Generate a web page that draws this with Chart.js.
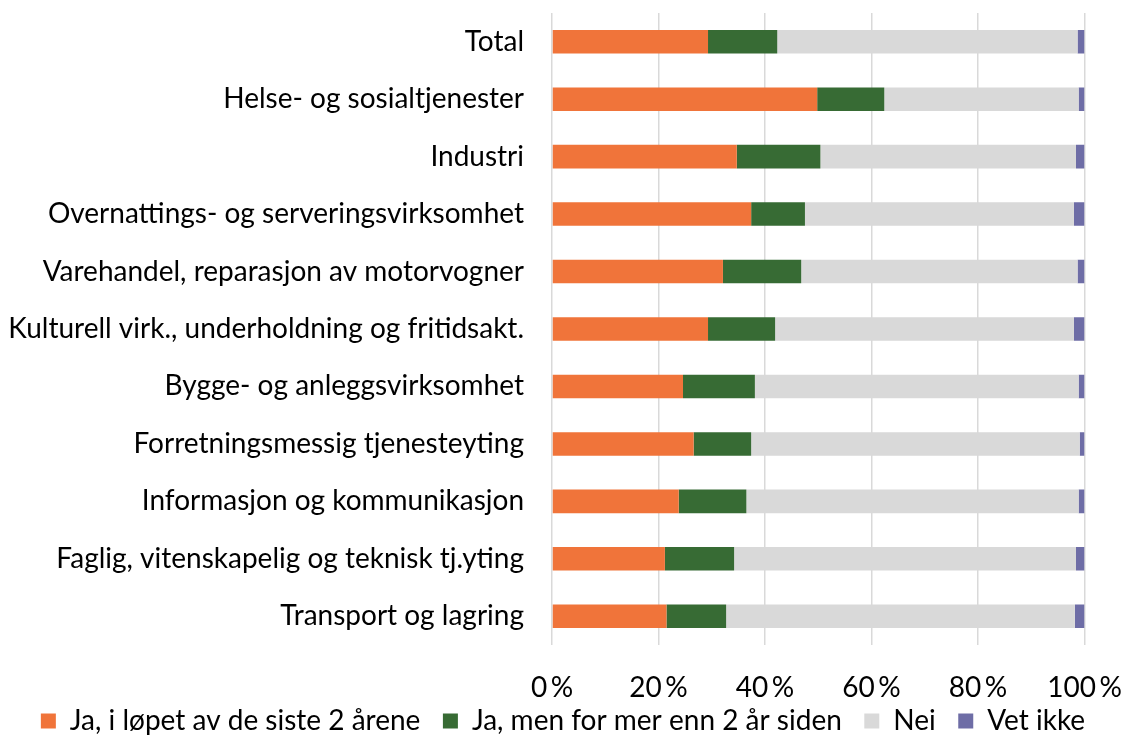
<!DOCTYPE html>
<html>
<head>
<meta charset="utf-8">
<script src="https://cdn.jsdelivr.net/npm/chart.js@4.4.1/dist/chart.umd.min.js"></script>
<style>
  html, body { margin: 0; padding: 0; background: #fff; }
  #wrap { width: 1126px; height: 735px; position: relative; }
</style>
</head>
<body>
<div id="wrap"><canvas id="chart"></canvas></div>
<script>
const categories = [
    "Total",
    "Helse- og sosialtjenester",
    "Industri",
    "Overnattings- og serveringsvirksomhet",
    "Varehandel, reparasjon av motorvogner",
    "Kulturell virk., underholdning og fritidsakt.",
    "Bygge- og anleggsvirksomhet",
    "Forretningsmessig tjenesteyting",
    "Informasjon og kommunikasjon",
    "Faglig, vitenskapelig og teknisk tj.yting",
    "Transport og lagring"
];

const jaSiste2 = [29.3, 49.8, 34.7, 37.4, 32.1, 29.3, 24.6, 26.6, 23.8, 21.2, 21.5];
const jaMer2   = [13.0, 12.6, 15.7, 10.1, 14.7, 12.6, 13.5, 10.8, 12.7, 13.0, 11.2];
const nei      = [56.4, 36.5, 48.0, 50.5, 51.9, 56.1, 60.8, 61.7, 62.4, 64.2, 65.5];
const vetIkke  = [1.3, 1.1, 1.6, 2.0, 1.3, 2.0, 1.1, 0.9, 1.1, 1.6, 1.8];

const seriesNames = ["Ja, i løpet av de siste 2 årene", "Ja, men for mer enn 2 år siden", "Nei", "Vet ikke"];
const colors = ["#F0743A", "#376B34", "#D9D9D9", "#6E6DA6"];
const xTicks = [0, 20, 40, 60, 80, 100];

const font = "Lato, 'Open Sans', sans-serif";
const fontSize = 28;

function ds(i, data) {
    return {
        label: seriesNames[i],
        data: data,
        backgroundColor: colors[i],
        borderWidth: 0,
        barPercentage: 0.82,
        categoryPercentage: 0.5
    };
}

const config = {
    type: 'bar',
    data: {
        labels: categories,
        datasets: [ds(0, jaSiste2), ds(1, jaMer2), ds(2, nei), ds(3, vetIkke)]
    },
    options: {
        indexAxis: 'y',
        responsive: true,
        maintainAspectRatio: false,
        animation: false,
        layout: { padding: { left: 0, right: 0, top: 13, bottom: -10 } },
        plugins: {
            legend: {
                position: 'bottom',
                labels: {
                    color: '#000',
                    font: { family: font, size: fontSize },
                    boxWidth: 15,
                    boxHeight: 15,
                    padding: 1,
                    // small padding keeps the legend low, spaces give the gap between items
                    generateLabels: (chart) => {
                        const items = Chart.defaults.plugins.legend.labels.generateLabels(chart);
                        items.forEach((it, i) => {
                            if (i < items.length - 1) it.text += '   ';
                        });
                        return items;
                    }
                }
            },
            tooltip: { enabled: false }
        },
        scales: {
            x: {
                stacked: true,
                min: 0,
                max: 100,
                afterBuildTicks: (scale) => { scale.ticks = xTicks.map(v => ({ value: v })); },
                afterFit: (scale) => {
                    scale.height = 61;
                    scale.paddingLeft = 0;
                    scale.paddingRight = 41.5;
                },
                ticks: {
                    color: '#000',
                    font: { family: font, size: fontSize },
                    padding: 26,
                    maxRotation: 0,
                    callback: (v) => v + '\u2009%'
                },
                grid: { color: '#D9D9D9', lineWidth: 1.5, drawTicks: false },
                border: { display: false }
            },
            y: {
                stacked: true,
                afterFit: (scale) => {
                    scale.width = 552;
                    scale.paddingTop = 0;
                    scale.paddingBottom = 0;
                },
                ticks: {
                    color: '#000',
                    font: { family: font, size: fontSize },
                    padding: 28
                },
                grid: { display: false, drawTicks: false },
                border: { display: false }
            }
        }
    }
};

new Chart(document.getElementById('chart'), config);
</script>
</body>
</html>
